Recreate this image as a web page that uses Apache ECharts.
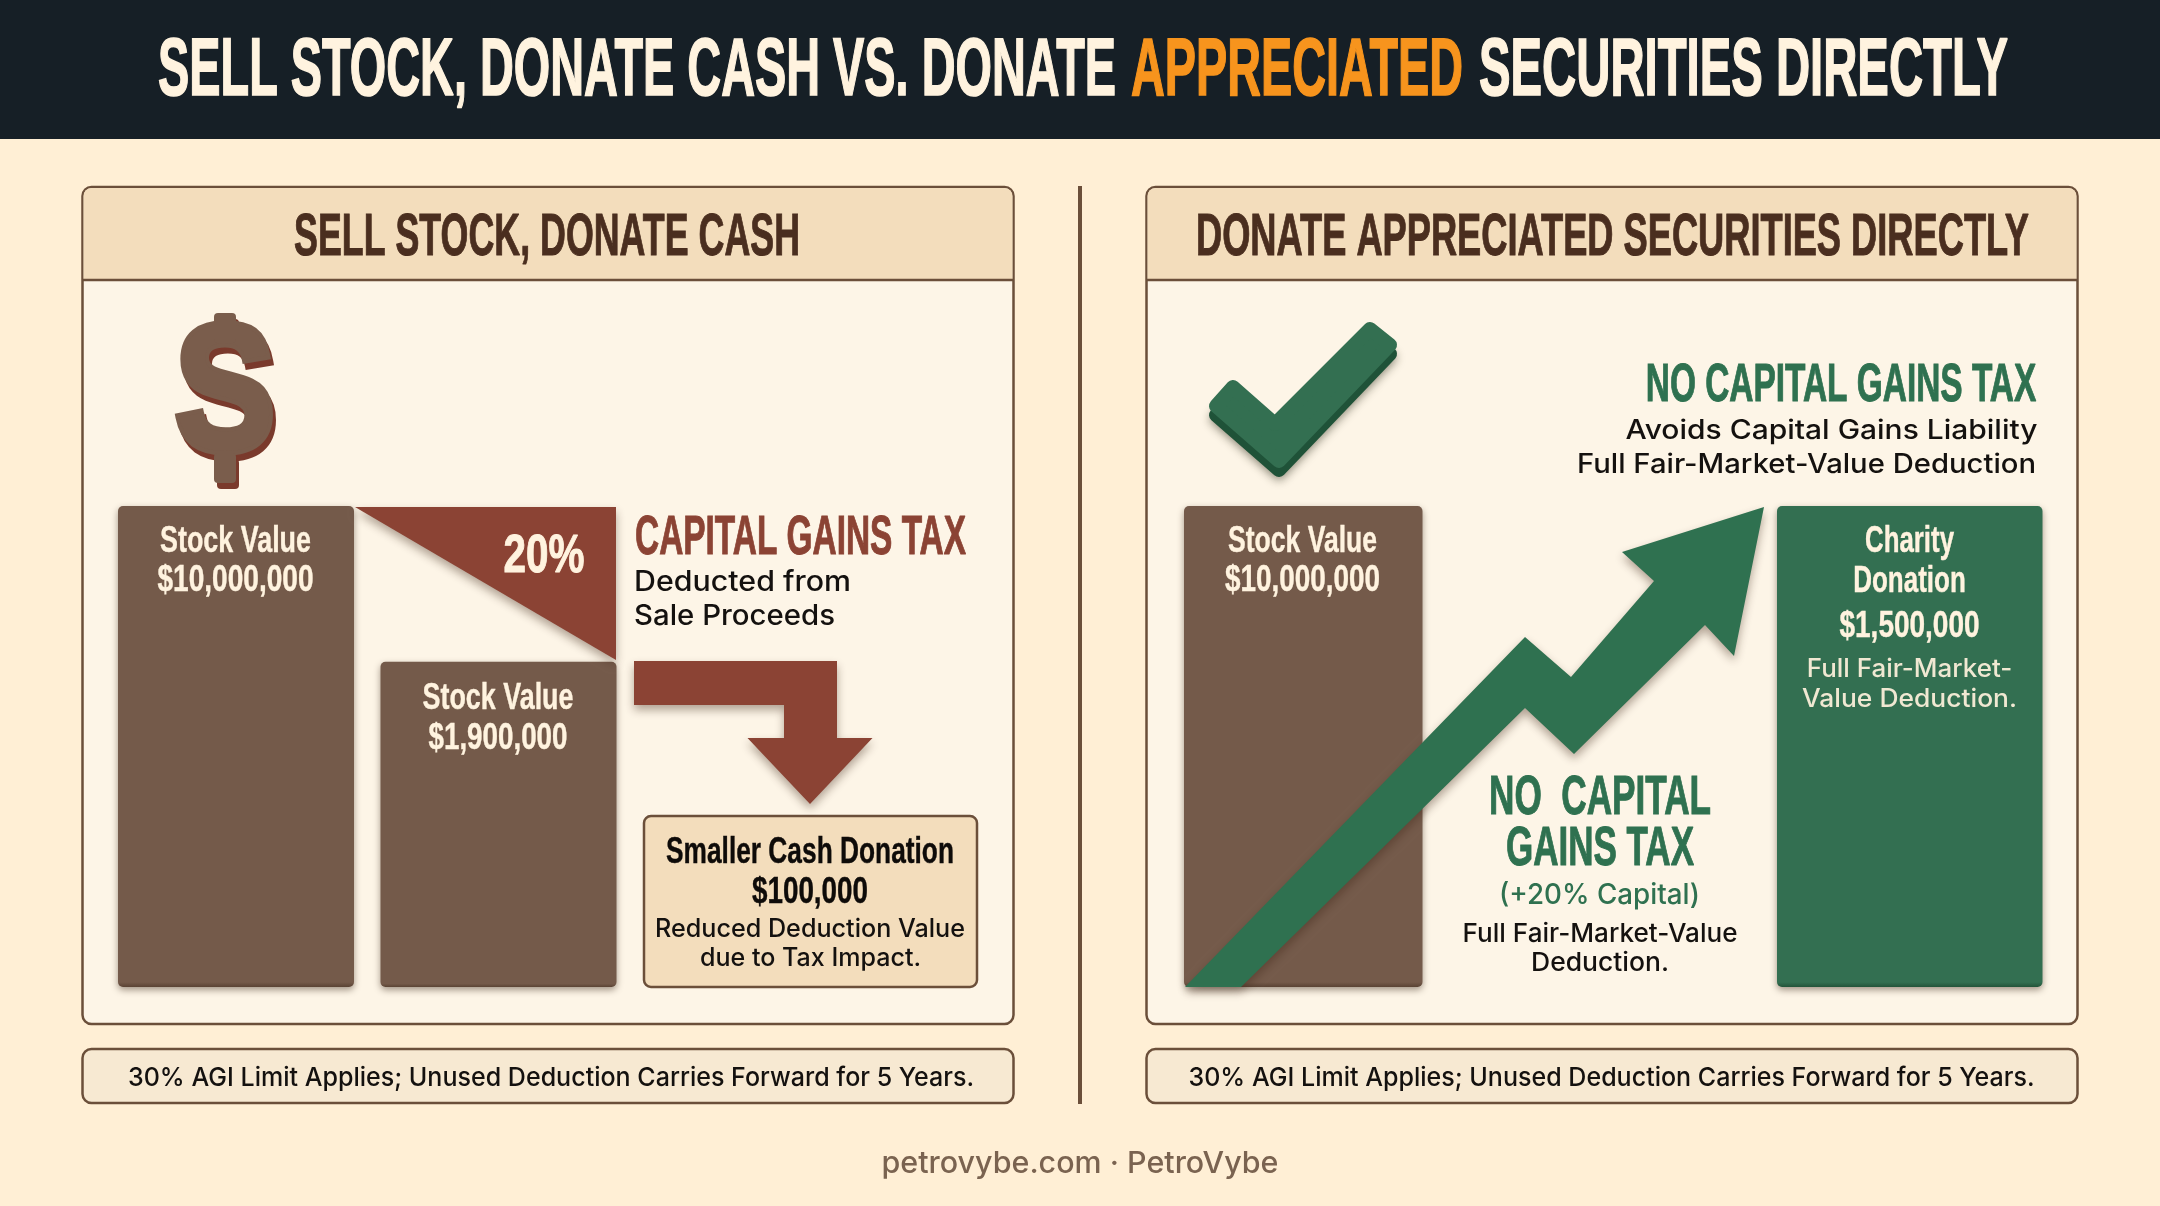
<!DOCTYPE html>
<html>
<head>
<meta charset="utf-8">
<title>Sell stock, donate cash vs. donate appreciated securities</title>
<script src="https://cdn.jsdelivr.net/npm/echarts@6/dist/echarts.min.js"></script>
<style>
html, body { margin: 0; padding: 0; background: #FFEFD5; }
#chart { width: 2160px; height: 1206px; }
</style>
</head>
<body>
<div id="chart"></div>
<script>
// bar heights are relative to the tallest bar, the picture is not drawn to dollar scale
const leftCategories = ['Stock Value', 'Stock Value after tax']
const leftHeights = [100, 67.6]
const leftAmounts = ['$10,000,000', '$1,900,000']
const rightStockHeights = [100]
const rightCharityHeights = [100]
const rightStockAmount = '$10,000,000'
const rightCharityAmount = '$1,500,000'
const taxRate = '20%'
const cashDonation = '$100,000'

const BROWN = '#745A4A'
const BROWN_EDGE = '#5A4334'
const GREEN = '#336F51'
const GREEN_EDGE = '#235439'
const RED = '#8B4334'
const LINE = '#6B4F3A'
const CREAM = '#FFF3DF'
const NARROW = '"Liberation Sans Narrow", "Liberation Sans"'
const BODY = 'Inter, "Noto Sans"'

const ctx = document.createElement('canvas').getContext('2d')

// text squeezed to the width it has in the picture
function label(text, cx, cy, width, size, fill, family, weight) {
    let font = (weight || 'bold') + ' ' + size + 'px ' + (family || NARROW)
    ctx.font = font
    let style = { text: text, font: font, fill: fill, align: 'center', verticalAlign: 'middle' }
    if (!family) {
        // the poster lettering is heavier than the narrow bold
        style.stroke = fill
        style.lineWidth = size > 70 ? 1.6 : (size > 50 ? 1 : 0.4)
    }
    return {
        type: 'text',
        x: cx,
        y: cy + (family ? 1.5 : 3),
        z: 20,
        scaleX: width / ctx.measureText(text).width,
        style: style
    }
}

function body(text, cx, cy, width, size, fill) {
    return label(text, cx, cy, width, size, fill || '#14110F', BODY, '500')
}

// dollar sign as an S with two stubs, the bar does not run through it in the picture
function dollar(cx, cy, fill, z) {
    let letter = label('S', cx, cy, 100, 178, fill, '"Liberation Sans"')
    letter.z = z
    letter.style.stroke = fill
    letter.style.lineWidth = 9
    letter.style.lineJoin = 'round'
    return [
        letter,
        box(cx - 11, cy - 85, 22, 30, 4, fill, null, 0, z),
        box(cx - 11, cy + 55, 22, 30, 4, fill, null, 0, z)
    ]
}

function box(x, y, w, h, r, fill, stroke, lineWidth, z) {
    return {
        type: 'rect',
        z: z || 1,
        shape: { x: x, y: y, width: w, height: h, r: r },
        style: { fill: fill, stroke: stroke, lineWidth: lineWidth }
    }
}

function poly(points, fill, z, shadow) {
    let style = { fill: fill }
    if (shadow) {
        style.shadowBlur = 10
        style.shadowOffsetY = 5
        style.shadowColor = 'rgba(60,35,20,0.4)'
    }
    return { type: 'polygon', z: z || 5, shape: { points: points }, style: style }
}

function panel(x) {
    return [
        box(x, 187, 931, 837, 9, '#FDF5E7', LINE, 2.5, 1),
        {
            type: 'rect', z: 1,
            shape: { x: x + 1, y: 188, width: 929, height: 92, r: [8, 8, 0, 0] },
            style: { fill: '#F3DDBC' }
        },
        { type: 'line', z: 1, shape: { x1: x, y1: 280, x2: x + 931, y2: 280 }, style: { stroke: LINE, lineWidth: 2.5 } },
        box(x, 1049, 931, 54, 9, '#F7E9D2', LINE, 2.5, 1)
    ]
}

const graphics = [
    { type: 'rect', z: 1, shape: { x: 0, y: 0, width: 2160, height: 139 }, style: { fill: '#161F26' } },
    { type: 'rect', z: 1, shape: { x: 1078, y: 186, width: 4, height: 918 }, style: { fill: LINE } },
    ...panel(82.5),
    ...panel(1146.5),

    label('SELL STOCK, DONATE CASH VS. DONATE', 637, 69, 958, 82, CREAM),
    label('APPRECIATED', 1297, 69, 332, 82, '#F7941D'),
    label('SECURITIES DIRECTLY', 1743.5, 69, 529, 82, CREAM),

    label('SELL STOCK, DONATE CASH', 547, 235, 506, 60, '#4A2E1F'),
    label('DONATE APPRECIATED SECURITIES DIRECTLY', 1612.5, 235, 833, 60, '#4A2E1F'),

    // dark copy behind for the raised look
    ...dollar(228, 404, '#7A3A2C', 6),
    ...dollar(225, 398, '#7A5D4C', 7),

    // left panel
    label('Stock Value', 235.5, 539, 151, 36, CREAM),
    label(leftAmounts[0], 235.5, 578.5, 156, 36, CREAM),
    label('Stock Value', 498, 696.5, 151, 36, CREAM),
    label(leftAmounts[1], 498, 736, 139, 36, CREAM),

    poly([[355, 507], [616, 507], [616, 660]], RED, 5, true),
    label(taxRate, 544, 554, 81, 54, CREAM),
    label('CAPITAL GAINS TAX', 800.5, 535.5, 331, 55, RED),
    body('Deducted from', 742.5, 581, 217, 28),
    body('Sale Proceeds', 734.5, 615, 201, 28),
    poly([[634, 661], [837, 661], [837, 738], [872.5, 738], [810, 804], [747.5, 738], [784, 738], [784, 705], [634, 705]], RED, 5, true),

    box(644, 816, 333, 171, 7, '#F3DDBC', LINE, 2.5, 3),
    label('Smaller Cash Donation', 810, 850, 288, 37, '#0E0B09'),
    label(cashDonation, 810, 890, 116, 37, '#0E0B09'),
    body('Reduced Deduction Value', 810, 928, 310, 25),
    body('due to Tax Impact.', 810.5, 957, 221, 25),

    // right panel
    label('Stock Value', 1302.5, 539, 149, 36, CREAM),
    label(rightStockAmount, 1302.5, 578.5, 155, 36, CREAM),

    {
        type: 'polygon', z: 4,
        shape: { points: [[1216, 415], [1233, 396], [1275, 433], [1370, 338], [1390, 354], [1279, 470]] },
        style: { fill: '#1F5238', stroke: '#1F5238', lineWidth: 14, lineJoin: 'round', shadowBlur: 8, shadowOffsetY: 4, shadowColor: 'rgba(40,40,20,0.4)' }
    },
    {
        type: 'polygon', z: 5,
        shape: { points: [[1216, 406], [1233, 387], [1275, 424], [1370, 329], [1390, 345], [1279, 461]] },
        style: { fill: GREEN, stroke: GREEN, lineWidth: 14, lineJoin: 'round' }
    },

    label('NO CAPITAL GAINS TAX', 1841, 383.5, 390.5, 54, '#2F7150'),
    body('Avoids Capital Gains Liability', 1831.5, 429.5, 412, 27),
    body('Full Fair-Market-Value Deduction', 1806.5, 463.5, 459, 27),

    poly([[1185, 987], [1241, 987], [1525, 708], [1574, 754], [1705, 625], [1734, 656], [1764, 507], [1622, 552], [1654, 581], [1571, 677], [1525, 637]], '#2F7150', 5, true),

    label('NO  CAPITAL', 1600, 796, 222, 55, '#2F7150'),
    label('GAINS TAX', 1600, 847, 188, 55, '#2F7150'),
    label('(+20% Capital)', 1599.5, 894, 201, 28, '#2F7150', BODY, '500'),
    body('Full Fair-Market-Value', 1600, 932.5, 275, 26),
    body('Deduction.', 1600, 962, 138, 26),

    label('Charity', 1909.5, 539, 89, 36, CREAM),
    label('Donation', 1909.5, 579, 112.5, 36, CREAM),
    label(rightCharityAmount, 1909.5, 624, 140, 36, CREAM),
    body('Full Fair-Market-', 1909.5, 668, 205.5, 25, '#F0E8D2'),
    body('Value Deduction.', 1909.5, 698, 215, 25, '#F0E8D2'),

    body('30% AGI Limit Applies; Unused Deduction Carries Forward for 5 Years.', 551, 1077, 846, 26),
    body('30% AGI Limit Applies; Unused Deduction Carries Forward for 5 Years.', 1611.5, 1077, 846, 26),
    label('petrovybe.com \u00b7 PetroVybe', 1080, 1162, 397, 30, '#7A6350', BODY, '500')
]

function barSeries(gridIndex, data, color, edge, width) {
    return {
        type: 'bar',
        xAxisIndex: gridIndex,
        yAxisIndex: gridIndex,
        data: data,
        barWidth: width,
        itemStyle: {
            // thin darker lip along the bottom of each bar
            color: new echarts.graphic.LinearGradient(0, 0, 0, 1, [
                { offset: 0, color: color },
                { offset: 0.99, color: color },
                { offset: 1, color: edge }
            ]),
            borderRadius: 5,
            shadowBlur: 7,
            shadowOffsetY: 3,
            shadowColor: 'rgba(50,30,15,0.45)'
        }
    }
}

function hiddenX(gridIndex, categories) {
    return { type: 'category', gridIndex: gridIndex, data: categories, show: false }
}

function hiddenY(gridIndex) {
    return { type: 'value', gridIndex: gridIndex, min: 0, max: 100, show: false }
}

let chart = echarts.init(document.querySelector('#chart'))

chart.setOption({
    animation: false,
    backgroundColor: '#FFEFD5',
    grid: [
        { left: 104.75, top: 506, width: 525, height: 481 },
        { left: 1184, top: 506, width: 238.5, height: 481 },
        { left: 1777, top: 506, width: 265.5, height: 481 }
    ],
    xAxis: [
        hiddenX(0, leftCategories),
        hiddenX(1, ['Stock Value']),
        hiddenX(2, ['Charity Donation'])
    ],
    yAxis: [hiddenY(0), hiddenY(1), hiddenY(2)],
    series: [
        barSeries(0, leftHeights, BROWN, BROWN_EDGE, 236),
        barSeries(1, rightStockHeights, BROWN, BROWN_EDGE, '100%'),
        barSeries(2, rightCharityHeights, GREEN, GREEN_EDGE, '100%')
    ],
    graphic: { elements: graphics }
})
</script>
</body>
</html>
